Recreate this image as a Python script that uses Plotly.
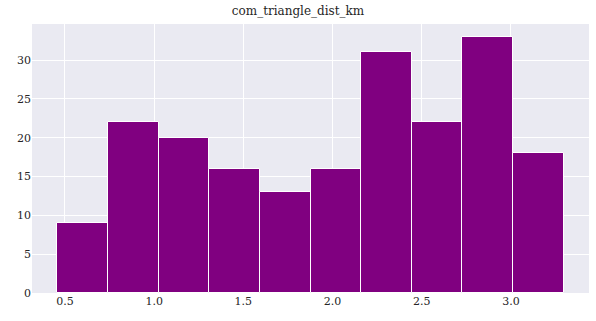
import plotly.graph_objects as go

title = "com_triangle_dist_km"
bin_start = 0.457
bin_width = 0.2839
counts = [9, 22, 20, 16, 13, 16, 31, 22, 33, 18]
x_ticks = [0.5, 1.0, 1.5, 2.0, 2.5, 3.0]
y_ticks = [0, 5, 10, 15, 20, 25, 30]

centers = [bin_start + bin_width * (i + 0.5) for i in range(len(counts))]
x_lo = bin_start
x_hi = bin_start + bin_width * len(counts)
pad = (x_hi - x_lo) * 0.05

fig = go.Figure(go.Bar(
    x=centers, y=counts, width=[bin_width] * len(counts),
    marker=dict(color="#800080", line=dict(color="white", width=1)),
))
fig.update_layout(
    width=596, height=321,
    margin=dict(l=32, r=7, t=24, b=28),
    paper_bgcolor="white", plot_bgcolor="#EAEAF2",
    font=dict(family="DejaVu Serif", size=11, color="#262626"),
    title=dict(text=title, x=0.5, xanchor="center", y=0.98, yanchor="top",
               font=dict(size=12, color="#262626")),
    showlegend=False, bargap=0,
)
fig.update_xaxes(range=[x_lo - pad, x_hi + pad], tickvals=x_ticks,
                 ticktext=[f"{v:.1f}" for v in x_ticks],
                 showgrid=True, gridcolor="white", gridwidth=1, zeroline=False,
                 showline=False, ticks="", ticklen=0)
fig.update_yaxes(range=[0, max(counts) * 1.05], tickvals=y_ticks,
                 showgrid=True, gridcolor="white", gridwidth=1, zeroline=False,
                 showline=False, ticks="", ticklen=0)
fig.write_html("out.html")
